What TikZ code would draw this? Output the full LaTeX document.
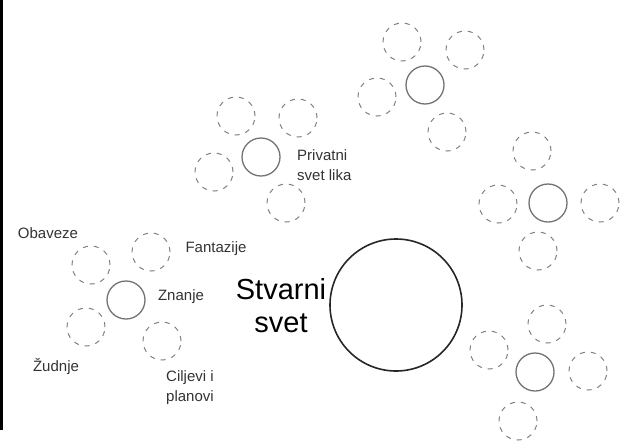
\documentclass[tikz,border=0pt]{standalone}
\usepackage{fontspec}
\setmainfont{Liberation Sans}
\begin{document}
\begin{tikzpicture}[x=1pt,y=-1pt,
  hub/.style={circle, draw=black!55, line width=1.3pt, minimum size=38pt, inner sep=0pt},
  wish/.style={circle, draw=black!50, line width=1pt, dash pattern=on 5pt off 6pt, minimum size=38pt, inner sep=0pt},
  world/.style={circle, draw=black!85, line width=1.6pt, minimum size=132pt, inner sep=0pt},
  lbl/.style={font=\fontsize{15}{20}\selectfont, text=black!80, align=left, inner sep=0pt}]
% Set the frame
\useasboundingbox (0,0) rectangle (620,442);
\draw[line width=3pt] (1.5,0) -- (1.5,430);

% Real world
\node[world] (stvarni) at (396,305) {};
\node[font=\fontsize{29}{33}\selectfont, align=center, inner sep=0pt] (stvarnilbl) at (281,306) {Stvarni\\svet};

% Left group with labels
\node[hub] (znanje) at (126,300) {};
\node[wish] (obaveze) at (91,265) {};
\node[wish] (fantazije) at (151,252) {};
\node[wish] (zudnje) at (86,327) {};
\node[wish] (ciljevi) at (162,341) {};
\node[lbl] (obavezelbl) at (48,233) {Obaveze};
\node[lbl] (fantazijelbl) at (216,249) {Fantazije};
\node[lbl] (znanjelbl) at (181,297) {Znanje};
\node[lbl] (zudnjelbl) at (56,366) {Žudnje};
\node[lbl, align=left] (ciljevilbl) at (190,388) {Ciljevi i\\planovi};

% Private world of the character
\node[hub] (privatni) at (261,157) {};
\node[wish] (p1) at (236,116) {};
\node[wish] (p2) at (298,118) {};
\node[wish] (p3) at (214,172) {};
\node[wish] (p4) at (286,203) {};
\node[lbl, anchor=west] (privatnilbl) at (297,165) {Privatni\\svet lika};

% Top group
\node[hub] (top) at (425,85) {};
\node[wish] (t1) at (402,42) {};
\node[wish] (t2) at (465,50) {};
\node[wish] (t3) at (377,97) {};
\node[wish] (t4) at (447,132) {};

% Right group
\node[hub] (right) at (548,203) {};
\node[wish] (r1) at (532,151) {};
\node[wish] (r2) at (498,204) {};
\node[wish] (r3) at (600,203) {};
\node[wish] (r4) at (538,251) {};

% Bottom right group
\node[hub] (bottom) at (535,372) {};
\node[wish] (b1) at (547,324) {};
\node[wish] (b2) at (489,350) {};
\node[wish] (b3) at (588,371) {};
\node[wish] (b4) at (518,421) {};
\end{tikzpicture}
\end{document}
